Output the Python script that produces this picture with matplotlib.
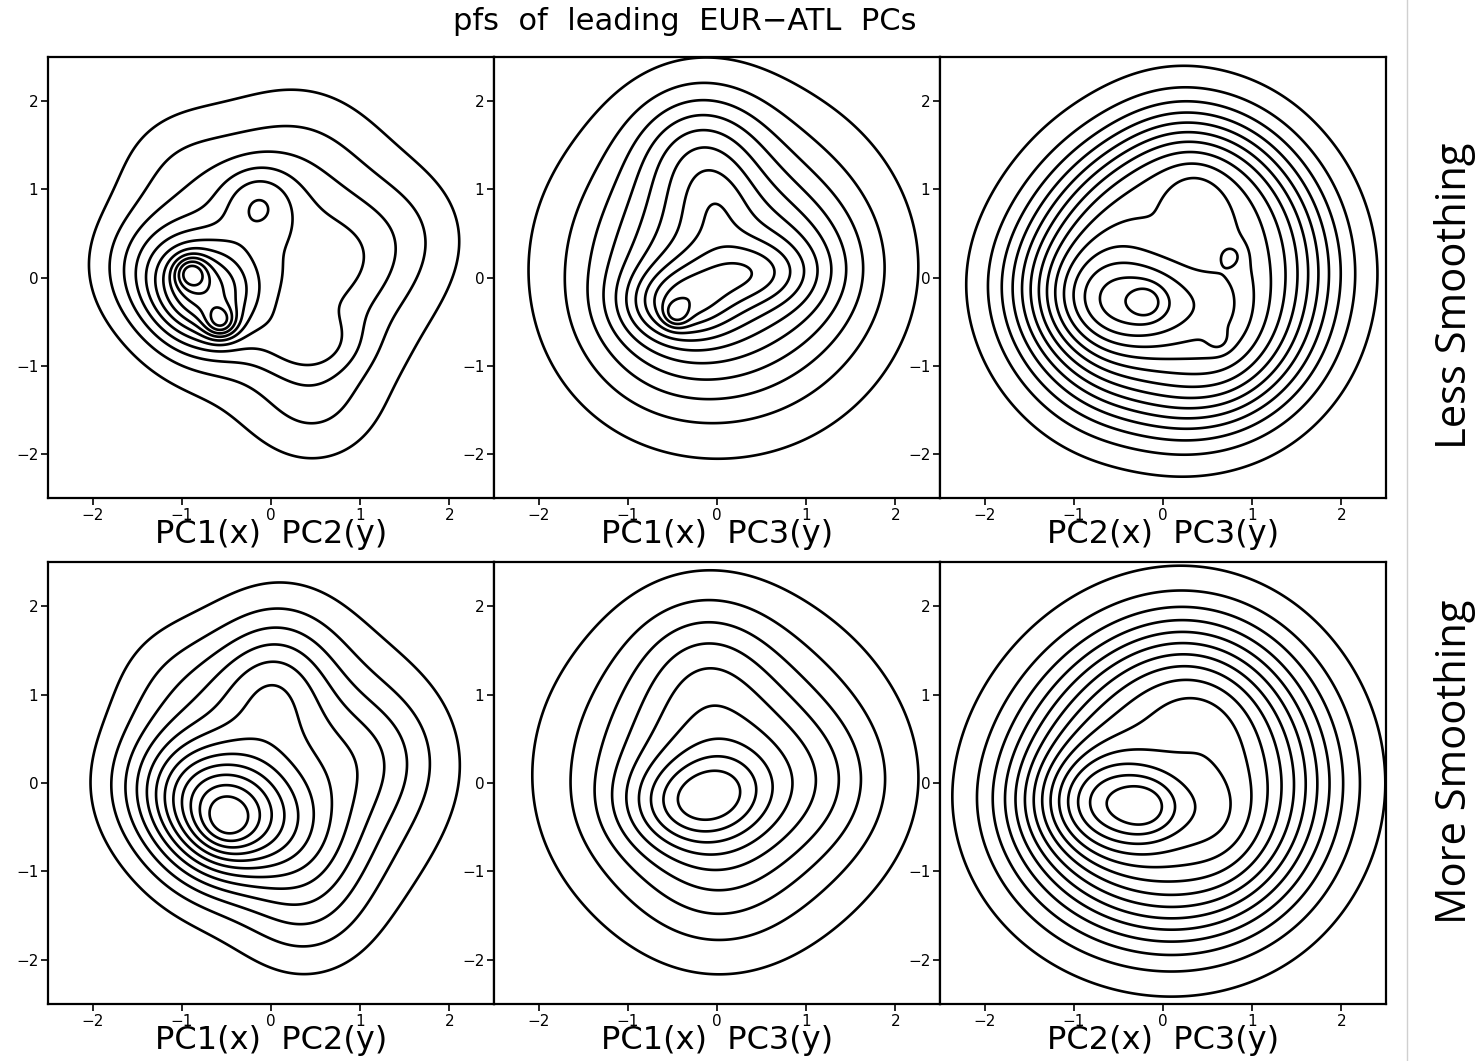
import numpy as np
import matplotlib
matplotlib.use("Agg")
import matplotlib.pyplot as plt
from matplotlib.lines import Line2D

# density components for each pair of PCs:
# (centre x, centre y, spread x, spread y, height)
pc12Less = [
  (0.15, 0.15, 1.00, 1.00, 0.35),
  (-0.75, -0.20, 0.42, 0.42, 0.55),
  (-1.30, 0.15, 0.45, 0.45, 0.20),
  (-0.90, 0.06, 0.13, 0.13, 0.28),
  (-0.56, -0.51, 0.13, 0.13, 0.30),
  (-0.15, 0.85, 0.30, 0.30, 0.20),
  (0.80, 0.10, 0.45, 0.45, 0.08),
  (0.45, -0.75, 0.40, 0.25, 0.15),
  (0.30, 1.40, 0.60, 0.60, 0.08),
  (-1.00, 1.20, 0.50, 0.50, 0.10),
  (1.50, 0.50, 0.50, 0.50, 0.08),
  (0.50, -1.45, 0.50, 0.50, 0.12),
]
pc13Less = [
  (0.05, 0.10, 1.00, 1.00, 0.45),
  (-0.20, 1.45, 0.50, 0.50, 0.20),
  (-0.45, -0.30, 0.40, 0.28, 0.25),
  (0.35, 0.05, 0.45, 0.25, 0.15),
  (-0.46, -0.42, 0.10, 0.10, 0.15),
  (0.00, 0.80, 0.25, 0.30, 0.06),
  (1.00, 0.10, 0.50, 0.50, 0.08),
  (-0.60, -0.60, 0.60, 0.60, 0.06),
  (0.10, 0.20, 1.40, 1.40, 0.10),
]
pc23Less = [
  (1.35, 0.05, 0.52, 0.52, 0.095),
  (1.18, 0.68, 0.52, 0.52, 0.100),
  (0.75, 1.17, 0.52, 0.52, 0.110),
  (0.15, 1.35, 0.52, 0.52, 0.110),
  (-0.45, 1.00, 0.52, 0.52, 0.090),
  (-0.85, 0.55, 0.52, 0.52, 0.090),
  (-1.15, 0.00, 0.52, 0.52, 0.100),
  (-1.00, -0.62, 0.52, 0.52, 0.090),
  (-0.55, -1.05, 0.52, 0.52, 0.095),
  (0.20, -1.20, 0.52, 0.52, 0.100),
  (0.80, -1.05, 0.52, 0.52, 0.100),
  (1.20, -0.60, 0.52, 0.52, 0.095),
  (0.10, 0.05, 0.75, 0.75, 0.178),
  (0.10, 0.05, 1.50, 1.50, 0.045),
  (-0.25, -0.28, 0.60, 0.40, 0.165),
  (-0.19, -0.28, 0.12, 0.12, 0.045),
  (0.35, 0.75, 0.22, 0.30, 0.035),
  (0.70, -0.10, 0.25, 0.55, 0.030),
  (0.77, 0.25, 0.10, 0.10, 0.030),
  (0.62, -0.72, 0.09, 0.09, 0.025),
]
pc12More = [
  (0.20, 0.10, 1.00, 1.00, 0.35),
  (-0.50, -0.40, 0.50, 0.50, 0.50),
  (-0.50, -0.47, 0.20, 0.20, 0.08),
  (0.00, 1.05, 0.45, 0.45, 0.15),
  (-1.10, 0.00, 0.50, 0.50, 0.20),
  (-1.00, 1.10, 0.50, 0.50, 0.08),
  (0.40, -0.70, 0.50, 0.50, 0.12),
  (1.20, 0.30, 0.50, 0.50, 0.08),
  (0.40, -1.50, 0.50, 0.50, 0.10),
  (0.10, 1.60, 0.50, 0.50, 0.08),
]
pc13More = [
  (0.05, 0.10, 1.05, 1.05, 0.55),
  (-0.15, 1.40, 0.55, 0.55, 0.15),
  (-0.30, -0.25, 0.50, 0.35, 0.30),
  (0.10, 0.00, 0.35, 0.30, 0.10),
  (0.00, -1.20, 0.60, 0.60, 0.08),
  (1.20, 0.00, 0.55, 0.55, 0.09),
  (0.05, 0.10, 1.40, 1.40, 0.08),
]
pc23More = [
  (1.25, 0.00, 0.63, 0.63, 0.080),
  (1.07, 0.60, 0.63, 0.63, 0.080),
  (0.65, 1.07, 0.63, 0.63, 0.090),
  (0.10, 1.20, 0.63, 0.63, 0.085),
  (-0.45, 0.95, 0.63, 0.63, 0.070),
  (-0.85, 0.50, 0.63, 0.63, 0.075),
  (-1.10, -0.10, 0.63, 0.63, 0.085),
  (-0.95, -0.65, 0.63, 0.63, 0.078),
  (-0.50, -1.00, 0.63, 0.63, 0.078),
  (0.10, -1.15, 0.63, 0.63, 0.082),
  (0.70, -1.00, 0.63, 0.63, 0.082),
  (1.07, -0.58, 0.63, 0.63, 0.078),
  (0.05, 0.00, 0.80, 0.80, 0.087),
  (0.05, 0.00, 1.50, 1.50, 0.045),
  (-0.40, -0.22, 0.60, 0.38, 0.140),
  (-0.17, -0.28, 0.22, 0.22, 0.040),
  (0.45, 0.55, 0.38, 0.38, 0.020),
  (0.65, -0.35, 0.30, 0.45, 0.020),
]

# contour levels as fractions of each panel's peak density
levels11 = [1/12, 2/12, 3/12, 4/12, 5/12, 6/12, 7/12, 8/12, 9/12, 10/12, 11/12]
levels12 = [1/13, 2/13, 3/13, 4/13, 5/13, 6/13, 7/13, 8/13, 9/13, 10/13, 11/13, 12/13]
levels9 = [0.1, 0.2, 0.3, 0.4, 0.5, 0.6, 0.7, 0.8, 0.9]
levels14 = [1/15, 2/15, 3/15, 4/15, 5/15, 6/15, 7/15, 8/15, 9/15, 10/15,
            11/15, 12/15, 13/15, 14/15]

panels = [
  (pc12Less, levels11, "PC1(x)  PC2(y)"),
  (pc13Less, levels11, "PC1(x)  PC3(y)"),
  (pc23Less, levels14, "PC2(x)  PC3(y)"),
  (pc12More, levels12, "PC1(x)  PC2(y)"),
  (pc13More, levels9, "PC1(x)  PC3(y)"),
  (pc23More, levels14, "PC2(x)  PC3(y)"),
]
ticks = [-2, -1, 0, 1, 2]
tickLabels = ["\u22122", "\u22121", "0", "1", "2"]
title = "pfs  of  leading  EUR\u2212ATL  PCs"
rowNames = ["Less Smoothing", "More Smoothing"]


def density(components, X, Y):
  Z = np.zeros_like(X)
  for cx, cy, sx, sy, h in components:
    Z += h * np.exp(-0.5 * (((X - cx) / sx) ** 2 + ((Y - cy) / sy) ** 2))
  return Z / Z.max()


def main():
  fig = plt.figure(figsize=(14.83, 10.61), dpi=100)
  g = np.linspace(-2.5, 2.5, 401)
  X, Y = np.meshgrid(g, g)

  left0 = 48 / 1483.0
  width = 446 / 1483.0
  bottoms = [1 - 498 / 1061.0, 1 - 1004 / 1061.0]
  heights = [441 / 1061.0, 442 / 1061.0]

  for i, (comps, levels, label) in enumerate(panels):
    row, col = divmod(i, 3)
    ax = fig.add_axes([left0 + col * width, bottoms[row], width, heights[row]])
    Z = density(comps, X, Y)
    ax.contour(X, Y, Z, levels=levels, colors="black", linewidths=1.9)
    ax.set_xlim(-2.5, 2.5)
    ax.set_ylim(-2.5, 2.5)
    ax.set_xticks(ticks)
    ax.set_yticks(ticks)
    ax.set_xticklabels(tickLabels)
    ax.set_yticklabels(tickLabels)
    ax.tick_params(direction="out", length=5, width=1.2, labelsize=11, pad=2)
    for s in ax.spines.values():
      s.set_linewidth(1.6)
    ax.set_xlabel(label, fontsize=23, labelpad=-3)

  fig.text(685 / 1483.0, 1 - 21 / 1061.0, title, fontsize=22,
           ha="center", va="center")

  fig.add_artist(Line2D([1407 / 1483.0] * 2, [0, 1], color="#d0d0d0", lw=1))
  fig.text(1455 / 1483.0, 1 - 296 / 1061.0, rowNames[0], rotation=90,
           fontsize=30, family="Open Sans", ha="center", va="center")
  fig.text(1455 / 1483.0, 1 - 762 / 1061.0, rowNames[1], rotation=90,
           fontsize=30, family="Open Sans", ha="center", va="center")

  fig.savefig("out.png", dpi=100)


if __name__ == '__main__':
  main()
